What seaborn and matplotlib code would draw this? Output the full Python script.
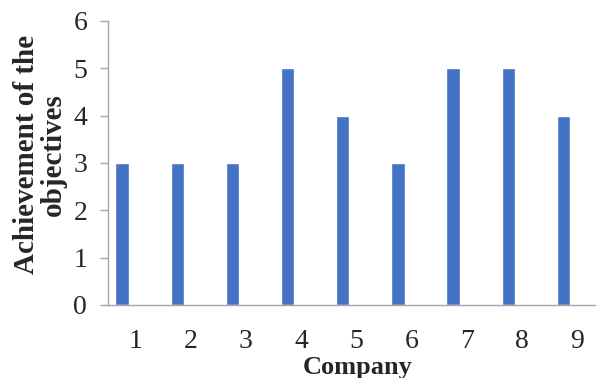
import numpy as np
import pandas as pd
import matplotlib
matplotlib.use("Agg")
import matplotlib.pyplot as plt
import seaborn as sns

companies = ["1", "2", "3", "4", "5", "6", "7", "8", "9"]
achievement = [3, 3, 3, 5, 4, 3, 5, 5, 4]
y_ticks = [0, 1, 2, 3, 4, 5, 6]

sns.set_style("white")
plt.rcParams["font.family"] = ["Liberation Serif", "DejaVu Serif"]

df = pd.DataFrame({"Company": companies, "Achievement": achievement})

fig = plt.figure(figsize=(5.96, 3.78), dpi=100)
ax = fig.add_axes([108 / 596, 1 - 305 / 378, 1 - 108 / 596 + 0.02, (305 - 21) / 378])

sns.barplot(data=df, x="Company", y="Achievement", color="#4472C4",
            width=0.24, saturation=1, ax=ax)

# category labels sit to the right of each bar (first slot of a grouped layout)
offset = 0.245
ax.set_xticks(np.arange(len(companies)) + offset, companies)
ax.set_xlim(-0.5 + offset, -0.5 + offset + (610 - 108) / 55.4)
ax.set_ylim(0, 6)
ax.set_yticks(y_ticks)

axis_gray = "#A6A6A6"
for side in ["top", "right"]:
    ax.spines[side].set_visible(False)
for side in ["left", "bottom"]:
    ax.spines[side].set_color(axis_gray)
    ax.spines[side].set_linewidth(1.0)

ax.tick_params(axis="y", length=6, width=1, color=axis_gray, direction="out",
               labelsize=20, pad=9, left=True)
ax.tick_params(axis="x", length=0, labelsize=20, pad=17)

ax.set_xlabel("Company", fontsize=19, fontweight="bold", labelpad=2)
ax.set_ylabel("Achievement of the\nobjectives", fontsize=21, fontweight="bold",
              linespacing=1.02)
ax.yaxis.set_label_coords(-0.082, 0.53)

fig.savefig("out.png", dpi=100)
